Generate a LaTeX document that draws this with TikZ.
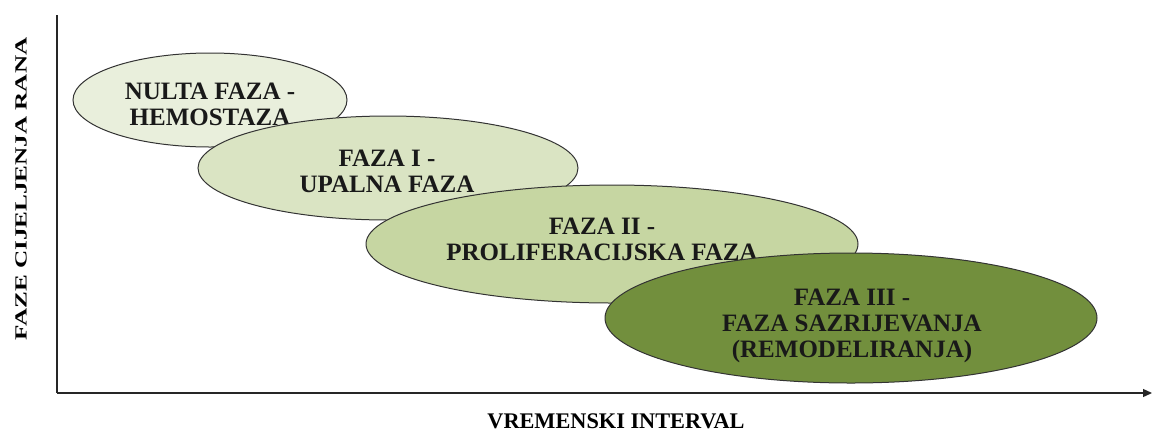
\documentclass[tikz,border=0pt]{standalone}
\usepackage{fontspec}
\setmainfont{Liberation Serif}
\usetikzlibrary{shapes.geometric,arrows.meta}
\definecolor{fazanula}{HTML}{E9EFDC}
\definecolor{fazajedan}{HTML}{DAE4C3}
\definecolor{fazadva}{HTML}{C6D6A2}
\definecolor{fazatri}{HTML}{728F3D}
\begin{document}
\begin{tikzpicture}[x=1pt,y=-1pt,
	faza/.style={ellipse,draw=black!80,line width=1pt,inner sep=0pt},
	fazatekst/.style={align=center,font=\fontsize{25}{26}\selectfont\bfseries,text=black!90},
	osa/.style={line width=1.3pt,draw=black!85}]
	\useasboundingbox (0,0) rectangle (1153,432);
	% osi
	\coordinate (O) at (57,393);
	\coordinate (Yv) at (57,15);
	\coordinate (Xk) at (1152,393);
	\draw[osa] (Yv) -- (O);
	\draw[osa,-{Triangle[length=9pt,width=8pt]}] (O) -- (Xk);
	% faze
	\node (F0) at (210,100) [faza,fill=fazanula,minimum width=274pt,minimum height=94pt] {};
	\node (T0) at (210,104) [fazatekst] {NULTA FAZA -\\HEMOSTAZA};
	\node (F1) at (388,168) [faza,fill=fazajedan,minimum width=380pt,minimum height=104pt] {};
	\node (T1) at (387,171) [fazatekst] {FAZA I -\\UPALNA FAZA};
	\node (F2) at (612,244) [faza,fill=fazadva,minimum width=492pt,minimum height=118pt] {};
	\node (T2) at (602,239) [fazatekst] {FAZA II -\\PROLIFERACIJSKA FAZA};
	\node (F3) at (851,318) [faza,fill=fazatri,minimum width=492pt,minimum height=130pt] {};
	\node (T3) at (852,326) [fazatekst] {FAZA III -\\FAZA SAZRIJEVANJA\\(REMODELIRANJA)};
	% natpisi osi
	\node (Ylab) at (21,189) [rotate=90,font=\fontsize{17}{20}\selectfont\bfseries] {\scalebox{1.48}[1]{FAZE CIJELJENJA RANA}};
	\node (Xlab) at (616,421) [font=\fontsize{22.3}{24}\selectfont\bfseries] {VREMENSKI INTERVAL};
\end{tikzpicture}
\end{document}
